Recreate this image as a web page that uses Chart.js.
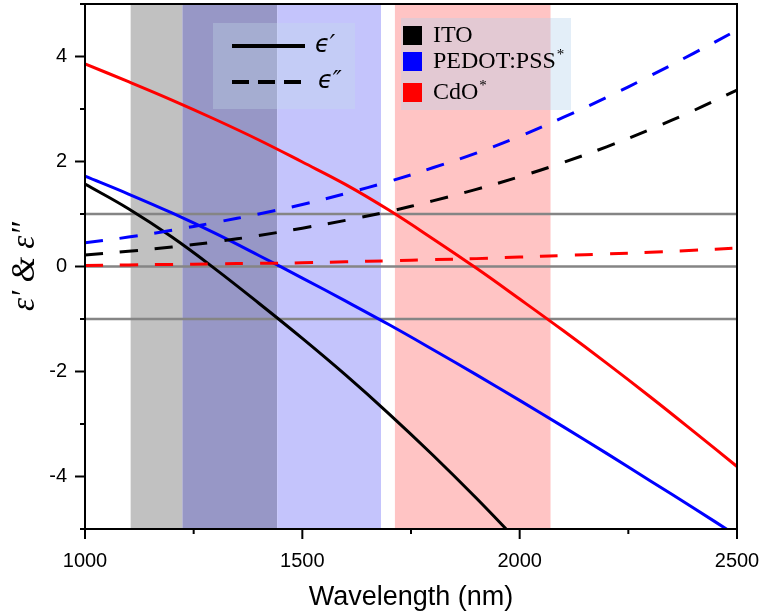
<!DOCTYPE html>
<html>
<head>
<meta charset="utf-8">
<script src="https://cdn.jsdelivr.net/npm/chart.js@4.4.1/dist/chart.umd.min.js"></script>
<style>
  html, body { margin: 0; padding: 0; background: #fff; }
  #wrap { width: 763px; height: 616px; }
</style>
</head>
<body>
<div id="wrap"><canvas id="chart" width="763" height="616"></canvas></div>
<script>
// Wavelength grid (nm) and permittivity values
const wavelength = [1000, 1100, 1200, 1300, 1400, 1500, 1600, 1700, 1800, 1900, 2000, 2100, 2200, 2300, 2400, 2500];

const itoReal   = [1.57, 1.10, 0.56, -0.05, -0.70, -1.37, -2.07, -2.81, -3.59, -4.41, -5.27, null, null, null, null, null];
const itoImag   = [0.22, 0.29, 0.37, 0.47, 0.59, 0.73, 0.88, 1.05, 1.25, 1.47, 1.71, 1.98, 2.28, 2.61, 2.97, 3.36];
const pedotReal = [1.72, 1.38, 1.02, 0.63, 0.21, -0.22, -0.66, -1.11, -1.58, -2.06, -2.55, -3.05, -3.56, -4.08, -4.60, -5.13];
const pedotImag = [0.45, 0.56, 0.69, 0.84, 1.00, 1.18, 1.39, 1.62, 1.88, 2.16, 2.48, 2.84, 3.22, 3.63, 4.06, 4.50];
const cdoReal   = [3.86, 3.52, 3.17, 2.80, 2.41, 1.99, 1.56, 1.07, 0.53, -0.03, -0.62, -1.22, -1.84, -2.48, -3.14, -3.81];
const cdoImag   = [0.02, 0.03, 0.04, 0.05, 0.06, 0.07, 0.09, 0.11, 0.13, 0.15, 0.18, 0.21, 0.24, 0.27, 0.31, 0.35];

// Shaded wavelength windows (nm)
const bandStart = [1105, 1224, 1442, 1713];
const bandEnd   = [1224, 1442, 1681, 2071];
const bandColor = ['#c1c1c1', '#9797c6', '#c4c4fc', '#ffc4c4'];

// Reference lines
const refLines = [1, 0, -1];

// Ticks
const xMajor = [1000, 1500, 2000, 2500];
const xMinor = [1250, 1750, 2250];
const yMajor = [-4, -2, 0, 2, 4];
const yMinor = [-5, -3, -1, 1, 3, 5];

const materials = ['ITO', 'PEDOT:PSS', 'CdO'];
const materialStar = [false, true, true];
const materialColor = ['#000000', '#0000ff', '#ff0000'];

const pts = ys => wavelength.map((x, i) => ({ x: x, y: ys[i] }));

function lineSet(label, ys, color, dashed) {
    return {
        label: label,
        data: pts(ys),
        borderColor: color,
        borderWidth: 3,
        borderDash: dashed ? [18, 17] : [],
        pointRadius: 0,
        fill: false,
        tension: 0.4,
        spanGaps: false,
        clip: 0
    };
}

// Bands, reference lines, frame, ticks, titles and the two legend boxes
const decorations = {
    id: 'decorations',
    beforeDatasetsDraw(chart) {
        const { ctx, chartArea: a, scales: { x, y } } = chart;
        ctx.save();
        bandStart.forEach((s, i) => {
            const x0 = x.getPixelForValue(s), x1 = x.getPixelForValue(bandEnd[i]);
            ctx.fillStyle = bandColor[i];
            ctx.fillRect(x0, a.top, x1 - x0, a.bottom - a.top);
        });
        ctx.strokeStyle = '#858585';
        ctx.lineWidth = 2.5;
        refLines.forEach(v => {
            const py = y.getPixelForValue(v);
            ctx.beginPath();
            ctx.moveTo(a.left, py);
            ctx.lineTo(a.right, py);
            ctx.stroke();
        });
        ctx.restore();
    },
    afterDatasetsDraw(chart) {
        const { ctx, chartArea: a, scales: { x, y } } = chart;
        ctx.save();

        // frame
        ctx.strokeStyle = '#000';
        ctx.lineWidth = 2;
        ctx.strokeRect(a.left, a.top, a.right - a.left, a.bottom - a.top);

        // ticks (outside)
        const tick = (px, py, dx, dy) => { ctx.beginPath(); ctx.moveTo(px, py); ctx.lineTo(px + dx, py + dy); ctx.stroke(); };
        xMajor.forEach(v => tick(x.getPixelForValue(v), a.bottom, 0, 10));
        xMinor.forEach(v => tick(x.getPixelForValue(v), a.bottom, 0, 5));
        yMajor.forEach(v => tick(a.left, y.getPixelForValue(v), -10, 0));
        yMinor.forEach(v => tick(a.left, y.getPixelForValue(v), -5, 0));

        // axis titles
        ctx.fillStyle = '#000';
        ctx.textAlign = 'center';
        ctx.textBaseline = 'middle';
        ctx.font = '27px "Liberation Sans", Arial, sans-serif';
        ctx.fillText('Wavelength (nm)', (a.left + a.right) / 2, 598);
        ctx.save();
        ctx.translate(25, (a.top + a.bottom) / 2);
        ctx.rotate(-Math.PI / 2);
        ctx.font = 'italic 33px "Liberation Serif", "Times New Roman", serif';
        ctx.fillText('\u03b5\u2032 & \u03b5\u2033', 0, 0);
        ctx.restore();

        // legend 1: line styles
        ctx.fillStyle = 'rgba(196, 222, 232, 0.32)';
        ctx.fillRect(213, 23, 142, 86);
        ctx.strokeStyle = '#000';
        ctx.lineWidth = 4;
        ctx.beginPath();
        ctx.moveTo(232, 46); ctx.lineTo(305, 46);
        ctx.stroke();
        ctx.setLineDash([17, 9]);
        ctx.beginPath();
        ctx.moveTo(232, 82); ctx.lineTo(302, 82);
        ctx.stroke();
        ctx.setLineDash([]);
        ctx.fillStyle = '#000';
        ctx.textAlign = 'left';
        ctx.font = 'italic 24px "DejaVu Sans", sans-serif';
        ctx.fillText('\u03f5\u2032', 315, 46);
        ctx.fillText('\u03f5\u2033', 318, 82);

        // legend 2: materials
        ctx.fillStyle = 'rgba(180, 210, 236, 0.37)';
        ctx.fillRect(401, 18, 170, 92);
        const rowY = [35, 61, 92];
        materials.forEach((m, i) => {
            ctx.fillStyle = materialColor[i];
            ctx.fillRect(403, rowY[i] - 9, 19, 19);
            ctx.fillStyle = '#000';
            ctx.font = '24px "Liberation Serif", "Times New Roman", serif';
            ctx.textAlign = 'left';
            ctx.fillText(m, 433, rowY[i] + 1);
            if (materialStar[i]) {
                const w = ctx.measureText(m).width;
                ctx.font = '15px "Liberation Serif", "Times New Roman", serif';
                ctx.fillText('*', 434 + w, rowY[i] - 6);
            }
        });
        ctx.restore();
    }
};

document.addEventListener('DOMContentLoaded', () => {
    const ctx = document.getElementById('chart');
    new Chart(ctx, {
        type: 'line',
        data: {
            datasets: [
                lineSet('CdO \u03b5\u2033', cdoImag, '#ff0000', true),
                lineSet('ITO \u03b5\u2033', itoImag, '#000000', true),
                lineSet('PEDOT:PSS \u03b5\u2033', pedotImag, '#0000ff', true),
                lineSet('ITO \u03b5\u2032', itoReal, '#000000', false),
                lineSet('PEDOT:PSS \u03b5\u2032', pedotReal, '#0000ff', false),
                lineSet('CdO \u03b5\u2032', cdoReal, '#ff0000', false)
            ]
        },
        options: {
            responsive: false,
            animation: false,
            layout: { padding: { top: 4, right: 26, left: 0, bottom: 0 } },
            plugins: {
                legend: { display: false },
                tooltip: { enabled: false }
            },
            scales: {
                x: {
                    type: 'linear',
                    min: 1000,
                    max: 2500,
                    grid: { display: false },
                    border: { display: false },
                    ticks: {
                        stepSize: 500,
                        padding: 12,
                        color: '#000',
                        font: { family: '"Liberation Sans", Arial, sans-serif', size: 20 },
                        callback: v => String(v)
                    },
                    afterFit: s => { s.height = 87; s.paddingLeft = 0; s.paddingRight = 0; }
                },
                y: {
                    min: -5,
                    max: 5,
                    grid: { display: false },
                    border: { display: false },
                    ticks: {
                        stepSize: 2,
                        padding: 10,
                        color: '#000',
                        font: { family: '"Liberation Sans", Arial, sans-serif', size: 20 },
                        callback: v => String(v)
                    },
                    afterBuildTicks: s => { s.ticks = yMajor.map(v => ({ value: v })); },
                    afterFit: s => { s.width = 85; s.paddingTop = 0; s.paddingBottom = 0; }
                }
            }
        },
        plugins: [decorations]
    });
});
</script>
</body>
</html>
